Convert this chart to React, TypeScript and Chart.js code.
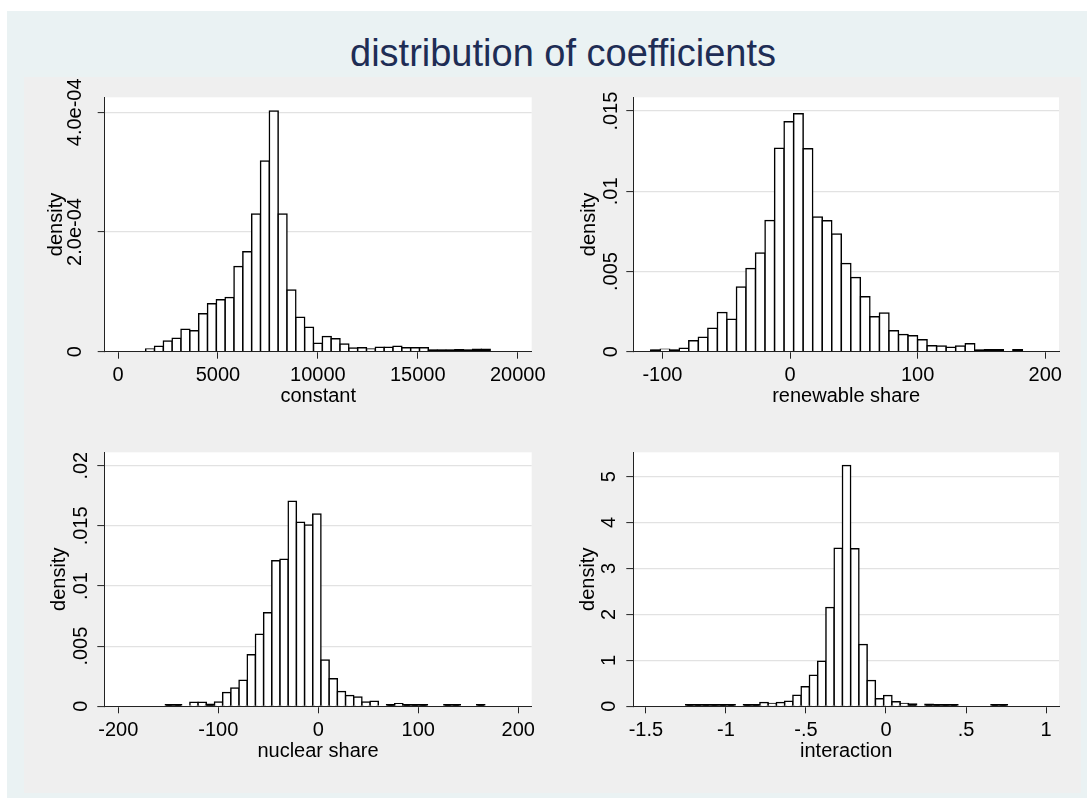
import React, { useEffect, useRef } from 'react';
import { Chart, registerables } from 'chart.js';

Chart.register(...registerables);

const FONT = '"Liberation Sans", Arial, Helvetica, sans-serif';
const TITLE = 'distribution of coefficients';
const Y_TITLE = 'density';

// ---- Panel 1: constant ----
const constantBinStart = 1384;
const constantBinWidth = 442;
const constantDensity: (number | null)[] = [
  4.5e-6, 9e-6, 1.8e-5, 2.25e-5, 3.75e-5, 3.5e-5, 6.35e-5, 8.0e-5, 8.7e-5, 9.05e-5,
  1.425e-4, 1.67e-4, 2.3e-4, 3.185e-4, 4.02e-4, 2.3e-4, 1.03e-4, 5.75e-5, 4.1e-5, 1.4e-5,
  2.55e-5, 2.15e-5, 1.3e-5, 6.0e-6, 6.5e-6, 4.5e-6, 7.5e-6, 7.5e-6, 9.0e-6, 6.5e-6,
  6.5e-6, 6.5e-6, 1.7e-6, 1.7e-6, 1.7e-6, 3.3e-6, 1.0e-6, 4.0e-6, 4.0e-6,
];
const constantXTicks = [0, 5000, 10000, 15000, 20000];
const constantXLabels = ['0', '5000', '10000', '15000', '20000'];
const constantYTicks = [0, 0.0002, 0.0004];
const constantYLabels = ['0', '2.0e-04', '4.0e-04'];

// ---- Panel 2: renewable share ----
const renewableBinStart = -109.2;
const renewableBinWidth = 7.47;
const renewableDensity: (number | null)[] = [
  0.0001, 0.00016, 0.0001, 0.00022, 0.00068, 0.0009, 0.00146, 0.00245, 0.00203, 0.00404,
  0.00518, 0.00615, 0.00818, 0.01269, 0.01434, 0.01484, 0.01265, 0.0084, 0.00816, 0.00734,
  0.0055, 0.00462, 0.00343, 0.00218, 0.00241, 0.00131, 0.00108, 0.001, 0.00075, 0.00037,
  0.00035, 0.00027, 0.00035, 0.0005, 0.0001, 0.00012, 0.00012, null, 0.00012,
];
const renewableXTicks = [-100, 0, 100, 200];
const renewableXLabels = ['-100', '0', '100', '200'];
const renewableYTicks = [0, 0.005, 0.01, 0.015];
const renewableYLabels = ['0', '.005', '.01', '.015'];

// ---- Panel 3: nuclear share ----
const nuclearBinStart = -153;
const nuclearBinWidth = 8.193;
const nuclearDensity: (number | null)[] = [
  0.0001, 0.00006, null, 0.00033, 0.00033, 0.00017, 0.00036, 0.00114, 0.00153, 0.00217,
  0.00428, 0.00598, 0.00778, 0.0121, 0.01222, 0.01704, 0.01529, 0.01507, 0.01598, 0.00385,
  0.0023, 0.00122, 0.00089, 0.00078, 0.00035, 0.00043, null, 0.00009, 0.00022, 0.00006,
  0.00011, 0.00006, null, null, 0.00006, 0.00006, null, null, 0.00006,
];
const nuclearXTicks = [-200, -100, 0, 100, 200];
const nuclearXLabels = ['-200', '-100', '0', '100', '200'];
const nuclearYTicks = [0, 0.005, 0.01, 0.015, 0.02];
const nuclearYLabels = ['0', '.005', '.01', '.015', '.02'];

// ---- Panel 4: interaction ----
const interactionBinStart = -1.252;
const interactionBinWidth = 0.05156;
const interactionDensity: (number | null)[] = [
  0.01, 0.01, 0.01, 0.01, 0.01, 0.025, null, 0.02, 0.03, 0.08,
  0.06, 0.08, 0.11, 0.24, 0.425, 0.678, 0.98, 2.148, 3.44, 5.24,
  3.43, 1.343, 0.56, 0.163, 0.237, 0.1, 0.06, 0.05, null, 0.045,
  0.015, 0.015, 0.015, null, null, null, null, 0.015, 0.015,
];
const interactionXTicks = [-1.5, -1, -0.5, 0, 0.5, 1];
const interactionXLabels = ['-1.5', '-1', '-.5', '0', '.5', '1'];
const interactionYTicks = [0, 1, 2, 3, 4, 5];
const interactionYLabels = ['0', '1', '2', '3', '4', '5'];

type Box = { left: number; top: number; width: number; height: number };
type Plot = { left: number; top: number; right: number; bottom: number };

type PanelCfg = {
  key: string;
  xTitle: string;
  binStart: number;
  binWidth: number;
  density: (number | null)[];
  xMin: number;
  xMax: number;
  yMax: number;
  xTicks: number[];
  xLabels: string[];
  yTicks: number[];
  yLabels: string[];
  canvas: Box;
  plot: Plot;
  yLabelOffset: number;
  yTitleOffset: number;
};

const panels: PanelCfg[] = [
  {
    key: 'constant', xTitle: 'constant',
    binStart: constantBinStart, binWidth: constantBinWidth, density: constantDensity,
    xMin: -666, xMax: 20700, yMax: 4.2506e-4,
    xTicks: constantXTicks, xLabels: constantXLabels, yTicks: constantYTicks, yLabels: constantYLabels,
    canvas: { left: 24, top: 77, width: 528, height: 353 },
    plot: { left: 104.7, top: 97.3, right: 531.7, bottom: 351.7 },
    yLabelOffset: 23.5, yTitleOffset: 42.5,
  },
  {
    key: 'renewable', xTitle: 'renewable share',
    binStart: renewableBinStart, binWidth: renewableBinWidth, density: renewableDensity,
    xMin: -122.8, xMax: 210.8, yMax: 0.01586,
    xTicks: renewableXTicks, xLabels: renewableXLabels, yTicks: renewableYTicks, yLabels: renewableYLabels,
    canvas: { left: 552, top: 77, width: 529, height: 353 },
    plot: { left: 633.3, top: 97.3, right: 1059, bottom: 351.7 },
    yLabelOffset: 16.6, yTitleOffset: 38.3,
  },
  {
    key: 'nuclear', xTitle: 'nuclear share',
    binStart: nuclearBinStart, binWidth: nuclearBinWidth, density: nuclearDensity,
    xMin: -214, xMax: 213.4, yMax: 0.021114,
    xTicks: nuclearXTicks, xLabels: nuclearXLabels, yTicks: nuclearYTicks, yLabels: nuclearYLabels,
    canvas: { left: 24, top: 430, width: 528, height: 363 },
    plot: { left: 104.3, top: 452.3, right: 531.7, bottom: 706.3 },
    yLabelOffset: 17, yTitleOffset: 39.3,
  },
  {
    key: 'interaction', xTitle: 'interaction',
    binStart: interactionBinStart, binWidth: interactionBinWidth, density: interactionDensity,
    xMin: -1.579, xMax: 1.081, yMax: 5.529,
    xTicks: interactionXTicks, xLabels: interactionXLabels, yTicks: interactionYTicks, yLabels: interactionYLabels,
    canvas: { left: 552, top: 430, width: 529, height: 363 },
    plot: { left: 633.3, top: 452.3, right: 1059, bottom: 706.3 },
    yLabelOffset: 18.3, yTitleOffset: 39.3,
  },
];

function binPoints(start: number, width: number, density: (number | null)[]) {
  const pts: { x: number; y: number }[] = [];
  density.forEach((d, i) => {
    if (d !== null && d !== undefined) pts.push({ x: start + width * (i + 0.5), y: d });
  });
  return pts;
}

function HistogramPanel({ cfg }: { cfg: PanelCfg }) {
  const ref = useRef<HTMLCanvasElement | null>(null);

  useEffect(() => {
    const canvas = ref.current;
    if (!canvas) return;
    const c = cfg.canvas;
    const p = cfg.plot;
    const yAxisWidth = p.left - c.left;
    const xAxisHeight = c.top + c.height - p.bottom;

    const decor = {
      id: 'stataDecor',
      beforeDraw(chart: any) {
        const { ctx, chartArea: a } = chart;
        ctx.save();
        ctx.fillStyle = '#ffffff';
        ctx.fillRect(a.left, a.top, a.right - a.left, a.bottom - a.top);
        ctx.restore();
      },
      afterDraw(chart: any) {
        const { ctx, chartArea: a } = chart;
        const ys = chart.scales.y;
        ctx.save();
        ctx.fillStyle = '#000000';
        ctx.font = `20px ${FONT}`;
        ctx.textAlign = 'center';
        ctx.textBaseline = 'alphabetic';
        ys.ticks.forEach((t: any, i: number) => {
          const py = ys.getPixelForValue(t.value);
          ctx.save();
          ctx.translate(a.left - cfg.yLabelOffset, py);
          ctx.rotate(-Math.PI / 2);
          ctx.fillText(cfg.yLabels[i] ?? String(t.value), 0, 0);
          ctx.restore();
        });
        ctx.save();
        ctx.translate(a.left - cfg.yTitleOffset, (a.top + a.bottom) / 2);
        ctx.rotate(-Math.PI / 2);
        ctx.fillText(Y_TITLE, 0, 0);
        ctx.restore();
        ctx.fillText(cfg.xTitle, (a.left + a.right) / 2, a.bottom + 50.6);
        ctx.restore();
      },
    };

    // very short bins read as a solid outline in the reference
    const fillFor = (ctx: any) => {
      const ys = ctx.chart && ctx.chart.scales ? ctx.chart.scales.y : null;
      const v = ctx.raw ? ctx.raw.y : null;
      if (ys && v !== null && v !== undefined) {
        const h = ys.getPixelForValue(0) - ys.getPixelForValue(v);
        if (h < 2.4) return '#000000';
      }
      return '#ffffff';
    };

    const chart = new Chart(canvas, {
      type: 'bar',
      data: {
        datasets: [
          {
            data: binPoints(cfg.binStart, cfg.binWidth, cfg.density) as any,
            backgroundColor: fillFor,
            borderColor: '#000000',
            borderWidth: 1.5,
            inflateAmount: 0.75,
            barPercentage: 1,
            categoryPercentage: 1,
            minBarLength: 1.6,
          } as any,
        ],
      },
      options: {
        animation: false,
        responsive: false,
        maintainAspectRatio: false,
        events: [],
        layout: {
          padding: {
            left: 0,
            top: p.top - c.top,
            right: c.left + c.width - p.right,
            bottom: 0,
          },
        },
        plugins: {
          legend: { display: false },
          tooltip: { enabled: false },
          title: { display: false },
        },
        scales: {
          x: {
            type: 'linear',
            min: cfg.xMin,
            max: cfg.xMax,
            offset: false,
            grid: {
              display: true,
              offset: false,
              drawOnChartArea: false,
              drawTicks: true,
              tickLength: 7,
              tickColor: '#222222',
              tickWidth: 1,
            },
            border: { display: true, color: '#222222', width: 1, z: 1 },
            ticks: {
              autoSkip: false,
              maxRotation: 0,
              minRotation: 0,
              padding: 5,
              color: '#000000',
              font: { family: FONT, size: 20 },
              callback: (_v: any, i: number) => cfg.xLabels[i] ?? '',
            },
            afterBuildTicks: (axis: any) => {
              axis.ticks = cfg.xTicks.map((v) => ({ value: v }));
            },
            afterFit: (axis: any) => {
              axis.height = xAxisHeight;
            },
          } as any,
          y: {
            type: 'linear',
            min: 0,
            max: cfg.yMax,
            grid: {
              display: true,
              drawOnChartArea: true,
              color: '#e2e2e2',
              lineWidth: 1.2,
              drawTicks: true,
              tickLength: 7,
              tickColor: '#222222',
              tickWidth: 1,
            },
            border: { display: true, color: '#222222', width: 1, z: 1 },
            ticks: { display: false },
            afterBuildTicks: (axis: any) => {
              axis.ticks = cfg.yTicks.map((v) => ({ value: v }));
            },
            afterFit: (axis: any) => {
              axis.width = yAxisWidth;
            },
          } as any,
        },
      },
      plugins: [decor],
    });

    return () => {
      chart.destroy();
    };
  }, [cfg]);

  const c = cfg.canvas;
  return (
    <canvas
      ref={ref}
      width={c.width}
      height={c.height}
      style={{ position: 'absolute', left: c.left, top: c.top, width: c.width, height: c.height }}
    />
  );
}

export default function App() {
  return (
    <div
      style={{
        position: 'absolute',
        left: 0,
        top: 0,
        width: 1087,
        height: 798,
        background: '#ffffff',
        overflow: 'hidden',
        fontFamily: FONT,
      }}
    >
      <div style={{ position: 'absolute', left: 7, top: 11, width: 1080, height: 787, background: '#EAF2F3' }} />
      <div style={{ position: 'absolute', left: 24, top: 77, width: 1057, height: 716, background: '#EFEFEF' }} />
      <div
        style={{
          position: 'absolute',
          left: 350,
          top: 34,
          fontSize: 38,
          lineHeight: '38px',
          color: '#1E2D55',
          whiteSpace: 'nowrap',
        }}
      >
        {TITLE}
      </div>
      {panels.map((p) => (
        <HistogramPanel key={p.key} cfg={p} />
      ))}
    </div>
  );
}
